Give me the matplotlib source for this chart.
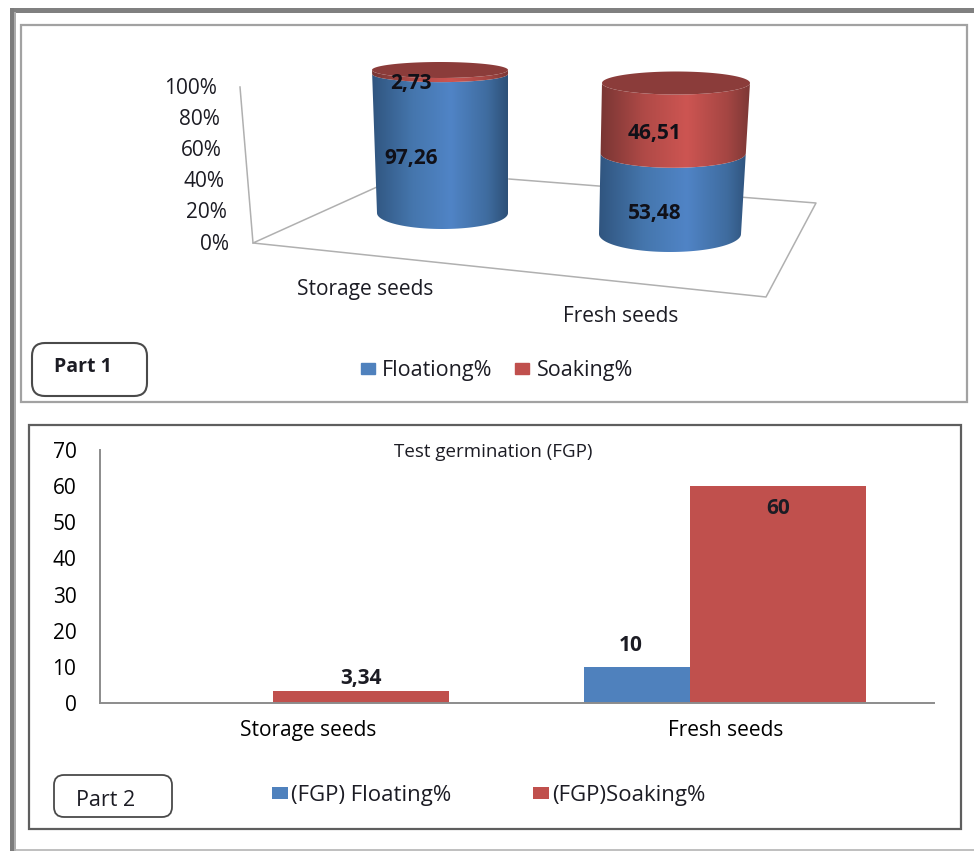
import numpy as np
import matplotlib
matplotlib.use('Agg')
import matplotlib.pyplot as plt
from matplotlib.colors import LinearSegmentedColormap
from matplotlib.patches import FancyBboxPatch, Patch, PathPatch, Rectangle
from matplotlib.path import Path

categories = ['Storage seeds', 'Fresh seeds']
floating_pct = [97.26, 53.48]
soaking_pct = [2.73, 46.51]
pct_ticks = [0, 20, 40, 60, 80, 100]

fgp_floating = [0, 10]
fgp_soaking = [3.34, 60]
fgp_ticks = [0, 10, 20, 30, 40, 50, 60, 70]

W, H = 974, 851
BLUE = '#4f81bd'
RED = '#c0504d'
TEXT = '#1c1c24'
LABEL_SIZE = 15

plt.rcParams['font.family'] = ['Open Sans', 'DejaVu Sans']
plt.rcParams['text.color'] = TEXT

fig = plt.figure(figsize=(W / 100, H / 100), dpi=100, facecolor='white')


def px_axes(left, top, right, bottom):
    # axes placed with pixel edges, y counted from the top of the figure
    return fig.add_axes([left / W, 1 - bottom / H, (right - left) / W, (bottom - top) / H])


def comma(v):
    return f'{v:g}'.replace('.', ',')


# page furniture: outer border, two panels, part boxes
bg = px_axes(0, 0, W, H)
bg.set_xlim(0, W)
bg.set_ylim(H, 0)
bg.axis('off')
bg.add_patch(Rectangle((10, 8), 964, 4.5, fc='#808080', ec='none'))
bg.add_patch(Rectangle((10, 8), 3.5, 843, fc='#7c7c7c', ec='none'))
bg.add_patch(Rectangle((13.5, 12), 2.5, 839, fc='#acacac', ec='none'))
bg.plot([16, 974], [850, 850], color='#b4b4b4', lw=1.2)
bg.add_patch(Rectangle((21, 25), 946, 377, fc='white', ec='#a2a2a2', lw=1.6))
bg.add_patch(Rectangle((29, 425), 932, 404, fc='white', ec='#5e5e5e', lw=1.6))
bg.add_patch(FancyBboxPatch((32, 343), 115, 53, boxstyle='round,pad=0,rounding_size=13',
                            fc='white', ec='#4a4a4a', lw=1.5))
bg.add_patch(FancyBboxPatch((54, 775), 118, 42, boxstyle='round,pad=0,rounding_size=10',
                            fc='white', ec='#4a4a4a', lw=1.3))
bg.text(83, 367, 'Part 1', fontsize=14, fontweight='bold', ha='center', va='center')
bg.text(106, 800, 'Part 2', fontsize=15.5, ha='center', va='center')

# floor and wall of the stacked chart
wall_col = '#b0b0b0'
bg.plot([240, 253], [87, 243], color=wall_col, lw=1.1)
bg.plot([377, 253, 766, 816, 509], [187, 243, 297, 203, 179], color=wall_col, lw=1.1)
for t in pct_ticks:
    bg.text(229 - 0.12 * t, 244 - 1.56 * t, f'{t}%', fontsize=LABEL_SIZE, ha='right', va='center')
bg.text(365, 290, categories[0], fontsize=LABEL_SIZE, ha='center', va='center')
bg.text(621, 316, categories[1], fontsize=LABEL_SIZE, ha='center', va='center')

blue_shade = LinearSegmentedColormap.from_list(
    'blue_shade', [(0, '#30557f'), (0.3, '#4576ad'), (0.58, '#5084c6'), (0.85, '#3f6c9f'), (1, '#2d5078')])
red_shade = LinearSegmentedColormap.from_list(
    'red_shade', [(0, '#773533'), (0.3, '#b04a47'), (0.58, '#cd5552'), (0.85, '#a54643'), (1, '#7d3836')])


def cylinder(base, top, y_base, y_top, half_base, half_top, values, label_x, label_drop):
    # base and top are (left, right) pixel edges; y axis runs 0-100 percent
    left = min(base[0], top[0])
    right = max(base[1], top[1])
    scale = 100 / (y_base - y_top)
    # room above and below the 0-100 span for the elliptical ends
    ax = px_axes(left, y_top - half_top - 2, right, y_base + half_base + 2)
    ax.patch.set_alpha(0)
    ax.axis('off')
    ymin = -(half_base + 2) * scale
    ymax = 100 + (half_top + 2) * scale

    def edges(p):
        f = p / 100
        return (base[0] + (top[0] - base[0]) * f,
                base[1] + (top[1] - base[1]) * f,
                (half_base + (half_top - half_base) * f) * scale)

    def front_arc(p, n=60):
        l, r, h = edges(p)
        th = np.linspace(np.pi, 2 * np.pi, n)
        return (l + r) / 2 + (r - l) / 2 * np.cos(th), p + h * np.sin(th)

    lo = 0
    for value, cmap, drop in zip(values, [blue_shade, red_shade], label_drop):
        hi = min(lo + value, 100)
        xa, ya = front_arc(lo)
        xb, yb = front_arc(hi)
        verts = np.r_[np.c_[xa, ya], np.c_[xb[::-1], yb[::-1]], [[xa[0], ya[0]]]]
        im = ax.imshow(np.linspace(0, 1, 256)[None, :], cmap=cmap, aspect='auto', vmin=0, vmax=1,
                       extent=(left, right, ymin, ymax), zorder=2)
        clip = PathPatch(Path(verts), transform=ax.transData, fc='none', ec='none')
        ax.add_patch(clip)
        im.set_clip_path(clip)
        ax.annotate(comma(value), (label_x, (lo + hi) / 2), xytext=(0, -drop), textcoords='offset points',
                    fontsize=LABEL_SIZE, fontweight='bold', color='#101018', ha='center', va='center', zorder=5,
                    annotation_clip=False)
        lo = hi

    # lid of the cylinder
    l, r, h = edges(100)
    th = np.linspace(0, 2 * np.pi, 120)
    ax.fill((l + r) / 2 + (r - l) / 2 * np.cos(th), 100 + h * np.sin(th), color='#8b3c3a', lw=0, zorder=3)
    ax.set_xlim(left, right)
    ax.set_ylim(ymin, ymax)
    return ax


cylinder((377, 508), (372, 508), 213, 70, 16, 8, [floating_pct[0], soaking_pct[0]], 411, (10.5, 8))
cylinder((599, 741), (602, 750), 234, 83, 18, 11.5, [floating_pct[1], soaking_pct[1]], 655, (14.5, 11))

bg.legend(handles=[Patch(color=BLUE, label='Floationg%'), Patch(color=RED, label='Soaking%')],
          loc='center', bbox_to_anchor=(497, 370.5), bbox_transform=bg.transData, ncol=2,
          frameon=False, fontsize=15.5, handlelength=0.65, handleheight=0.45, handletextpad=0.35,
          columnspacing=1.05, borderpad=0)

# germination bars
ax = px_axes(100, 450, 934, 703)
ax.patch.set_alpha(0)
x = np.arange(len(categories))
float_bars = ax.bar(x - 0.34, fgp_floating, width=0.258, align='edge', color=BLUE, label='(FGP) Floating%')
soak_bars = ax.bar(x - 0.084, fgp_soaking, width=0.422, align='edge', color=RED, label='(FGP)Soaking%')
ax.set_xlim(-0.5, 1.5)
ax.set_ylim(0, 70)
ax.set_xticks(x, categories)
ax.set_yticks(fgp_ticks)
ax.tick_params(axis='both', length=0, labelsize=LABEL_SIZE)
ax.tick_params(axis='x', pad=12)
ax.tick_params(axis='y', pad=17)
for s in ['top', 'right']:
    ax.spines[s].set_visible(False)
for s in ['left', 'bottom']:
    ax.spines[s].set_color('#8c8c8c')
    ax.spines[s].set_linewidth(1.4)

ax.annotate(comma(fgp_soaking[0]), (soak_bars[0].get_x() + soak_bars[0].get_width() / 2, fgp_soaking[0]),
            xytext=(0, 9), textcoords='offset points', fontsize=LABEL_SIZE, fontweight='bold', ha='center', va='center')
ax.annotate(comma(fgp_floating[1]), (float_bars[1].get_x() + float_bars[1].get_width() / 2 - 0.017, fgp_floating[1]),
            xytext=(0, 15.5), textcoords='offset points', fontsize=LABEL_SIZE, fontweight='bold', ha='center', va='center')
ax.annotate(comma(fgp_soaking[1]), (soak_bars[1].get_x() + soak_bars[1].get_width() / 2, fgp_soaking[1]),
            xytext=(0, -16), textcoords='offset points', fontsize=LABEL_SIZE, fontweight='bold', ha='center', va='center')

bg.text(493, 452, 'Test germination (FGP)', fontsize=13.5, ha='center', va='center')
ax.legend(handles=[float_bars, soak_bars], loc='center', bbox_to_anchor=(488.5, 795.5), bbox_transform=bg.transData,
          ncol=2, frameon=False, fontsize=16, handlelength=0.72, handleheight=0.5, handletextpad=0.12,
          columnspacing=3.7, borderpad=0)

fig.savefig('out.png', dpi=100)
